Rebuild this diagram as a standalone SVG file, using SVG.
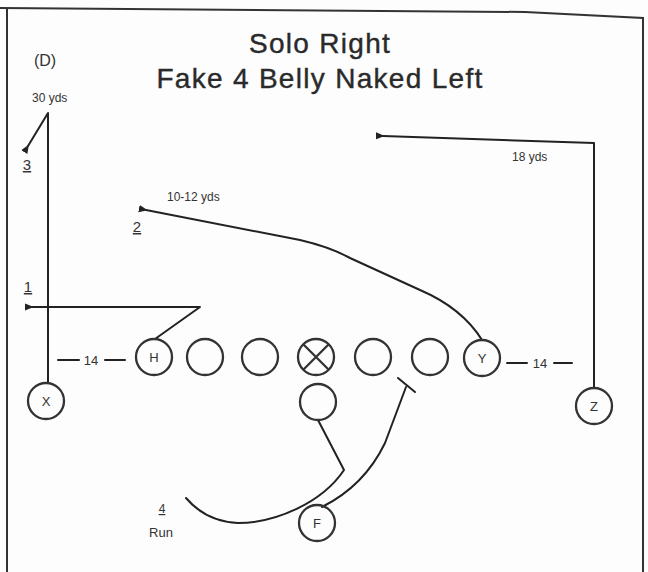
<svg xmlns="http://www.w3.org/2000/svg" width="648" height="572" viewBox="0 0 648 572">
<defs>
<marker id="ah" viewBox="0 0 10 10" refX="2" refY="5" markerWidth="4.5" markerHeight="4.5" orient="auto-start-reverse">
<path d="M10,1 L0,5 L10,9 Z" fill="#222"/>
</marker>
<style>
.bd{fill:none;stroke:#333;stroke-width:2}
.rt{fill:none;stroke:#222;stroke-width:2;stroke-linecap:round;stroke-linejoin:round}
.pl{fill:none;stroke:#333;stroke-width:2.3}
.lb{font-family:"Liberation Sans",Arial,sans-serif;fill:#333;text-anchor:middle}
.tt{font-family:"Liberation Sans",Arial,sans-serif;fill:#2a2a2a;font-size:28px;letter-spacing:1.3px;text-anchor:middle;stroke:#2a2a2a;stroke-width:0.4}
.sm{font-family:"Liberation Sans",Arial,sans-serif;fill:#333;font-size:12px}
</style>
</defs>
<rect width="648" height="572" fill="#fdfdfd"/>
<polyline class="bd" points="0,8 525,12 643,18 643,572"/>
<line class="bd" x1="7" y1="8" x2="7" y2="572"/>

<g id="title">
<text class="tt" x="320" y="53">Solo Right</text>
<text class="tt" x="320" y="88">Fake 4 Belly Naked Left</text>
</g>
<text class="lb" x="45" y="66" font-size="16">(D)</text>

<g id="connectors">
<polyline class="rt" points="48,383 48,113 28,146" marker-end="url(#ah)"/>
<polyline class="rt" points="155,339 200,307 32,307" marker-end="url(#ah)"/>
<path class="rt" d="M482,340 Q462,308 420,290 L350,258 Q330,247 300,240 L146,210" marker-end="url(#ah)"/>
<polyline class="rt" points="594,388 594,143 383,136" marker-end="url(#ah)"/>
<path class="rt" d="M318,420 L344,470 C322,503 275,523 238,523 C215,522 198,512 186,498"/>
<path class="rt" d="M322,507 C352,492 372,470 385,443 L406,387"/>
<line class="rt" x1="398" y1="378" x2="415" y2="392"/>
<line class="rt" x1="58" y1="360" x2="79" y2="360"/>
<line class="rt" x1="105" y1="360" x2="125" y2="360"/>
<line class="rt" x1="507" y1="363" x2="527" y2="363"/>
<line class="rt" x1="554" y1="363" x2="572" y2="363"/>
</g>

<g id="labels">
<text class="sm" x="32" y="102">30 yds</text>
<text class="lb" x="27" y="170" font-size="15" text-decoration="underline">3</text>
<text class="lb" x="28" y="292" font-size="15" text-decoration="underline">1</text>
<text class="lb" x="137" y="232" font-size="15" text-decoration="underline">2</text>
<text class="sm" x="167" y="201">10-12 yds</text>
<text class="sm" x="512" y="161">18 yds</text>
<text class="lb" x="91" y="365" font-size="13">14</text>
<text class="lb" x="540" y="368" font-size="13">14</text>
<text class="lb" x="162" y="513" font-size="12" text-decoration="underline">4</text>
<text class="lb" x="161" y="537" font-size="13">Run</text>
</g>

<g id="H"><circle class="pl" cx="154" cy="357" r="18"/><text class="lb" x="154" y="362" font-size="13">H</text></g>
<g id="LT"><circle class="pl" cx="205" cy="357" r="18"/></g>
<g id="LG"><circle class="pl" cx="260" cy="357" r="18"/></g>
<g id="C"><circle class="pl" cx="316" cy="357" r="18"/><path class="pl" d="M303,344 L329,370 M329,344 L303,370"/></g>
<g id="RG"><circle class="pl" cx="373" cy="357" r="18"/></g>
<g id="RT"><circle class="pl" cx="430" cy="357" r="18"/></g>
<g id="Y"><circle class="pl" cx="482" cy="358" r="18"/><text class="lb" x="482" y="363" font-size="13">Y</text></g>
<g id="QB"><circle class="pl" cx="318" cy="402" r="18"/></g>
<g id="X"><circle class="pl" cx="46" cy="401" r="18"/><text class="lb" x="46" y="406" font-size="13">X</text></g>
<g id="Z"><circle class="pl" cx="594" cy="406" r="18"/><text class="lb" x="594" y="411" font-size="13">Z</text></g>
<g id="F"><circle class="pl" cx="317" cy="523" r="18"/><text class="lb" x="317" y="528" font-size="13">F</text></g>
</svg>
